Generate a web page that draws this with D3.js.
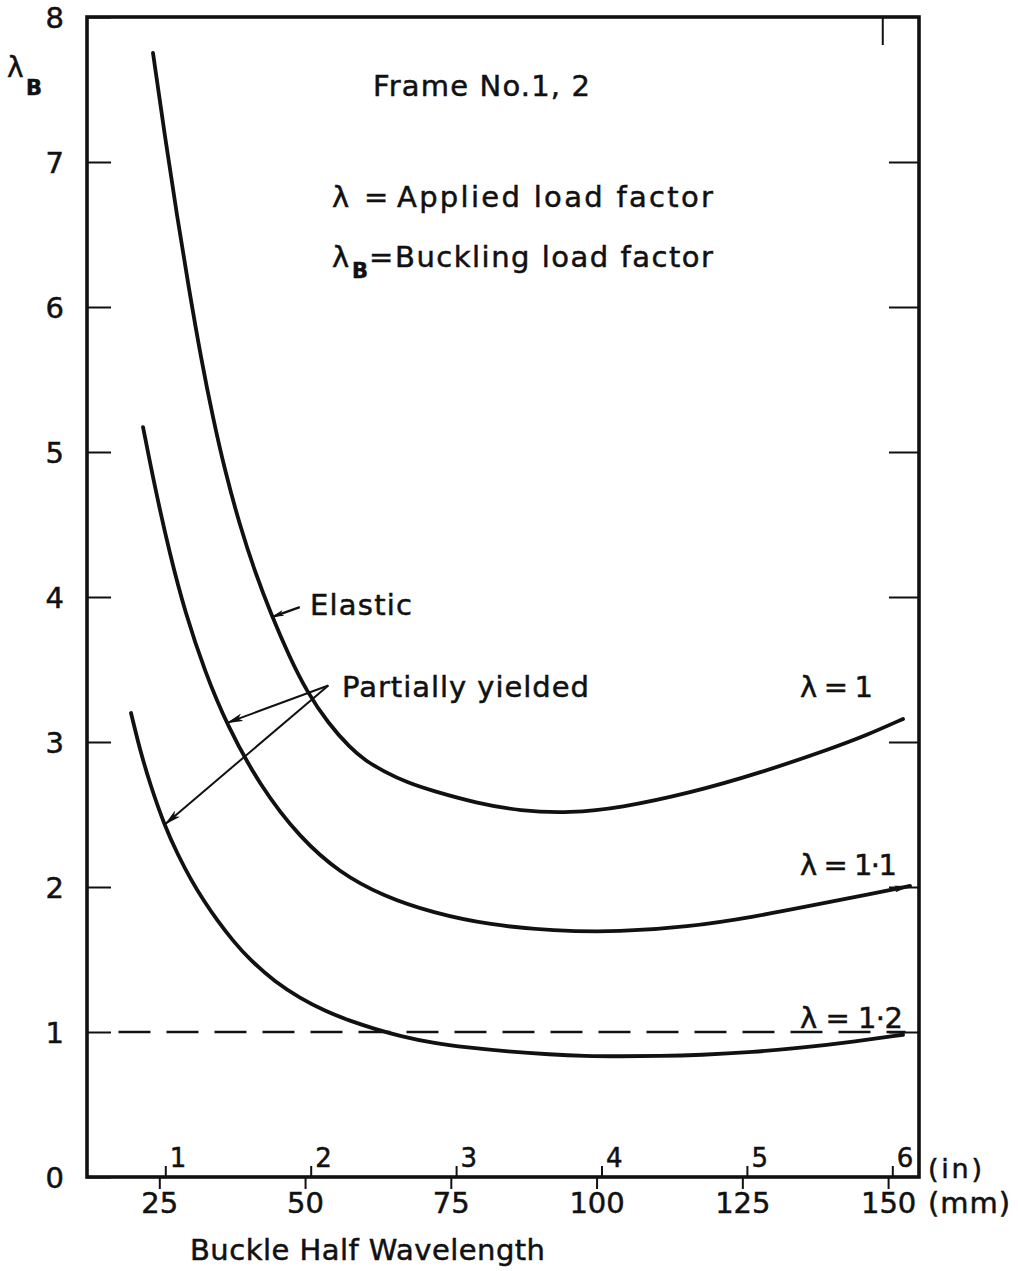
<!DOCTYPE html>
<html><head><meta charset="utf-8">
<script src="https://cdn.jsdelivr.net/npm/d3@7"></script>
<style>
body{margin:0;background:#fff}
svg{display:block}
text{font-family:"DejaVu Sans",sans-serif;fill:#111;stroke:#111;stroke-width:0.5}
</style>
</head><body>
<svg id="c" width="1018" height="1271"></svg>
<script>
// ---- data ----
const yTicks = [0,1,2,3,4,5,6,7,8];
const mmTicks = [25,50,75,100,125,150];
const inchTicks = [1,2,3,4,5,6];
const topTickMm = [149];

// [buckle half wavelength (mm), lambda_B]
const lambda1 = [[23.92,7.752],[25.98,7.172],[28.04,6.628],[30.09,6.124],[32.15,5.648],[34.21,5.234],[36.27,4.869],[38.84,4.490],[41.42,4.172],[44.16,3.883],[47.25,3.593],[50.33,3.345],[53.94,3.131],[57.71,2.959],[60.45,2.869],[63.37,2.800],[67.66,2.717],[71.94,2.662],[79.32,2.579],[86.87,2.524],[95.44,2.510],[104.02,2.545],[116.02,2.648],[128.03,2.786],[140.55,2.959],[146.38,3.048],[152.56,3.159]];
const lambda11 = [[22.21,5.172],[24.26,4.752],[26.84,4.290],[29.41,3.897],[32.84,3.483],[36.61,3.117],[42.27,2.697],[49.13,2.338],[55.99,2.097],[63.37,1.938],[71.94,1.821],[81.72,1.738],[92.53,1.697],[104.02,1.690],[115.51,1.724],[126.83,1.793],[138.32,1.883],[146.90,1.952],[153.76,2.007]];
const lambda12 = [[20.15,3.200],[21.69,2.945],[23.41,2.710],[25.98,2.414],[28.21,2.221],[30.44,2.048],[32.67,1.903],[34.90,1.772],[37.64,1.628],[40.56,1.497],[44.85,1.345],[49.13,1.234],[53.42,1.145],[57.71,1.076],[62.00,1.021],[66.28,0.972],[71.94,0.924],[77.78,0.893],[84.81,0.865],[92.01,0.845],[98.01,0.834],[104.02,0.832],[110.88,0.834],[117.74,0.841],[126.83,0.861],[135.40,0.892],[143.98,0.933],[152.56,0.981]];
const refLine = {value:1, from:18, to:153};

// annotation arrows: [from, to] in (mm, lambda_B)
const elasticArrow = [[49.1,3.93],[44.2,3.86]];
const yieldArrows = [[[54.0,3.39],[36.5,3.13]], [[54.0,3.39],[25.9,2.43]]];

// ---- layout ----
const L=87, R=919, T=17, B=1177;
const svg = d3.select("#c");
const x = d3.scaleLinear().domain([12.6,155.3]).range([L,R]);
const xIn = d3.scaleLinear().domain([0.4615,6.1836]).range([L,R]);
const y = d3.scaleLinear().domain([0,8]).range([B,T]);

const defs = svg.append("defs");
function marker(id,len,wid){
  defs.append("marker").attr("id",id).attr("markerUnits","userSpaceOnUse")
    .attr("markerWidth",len).attr("markerHeight",wid)
    .attr("refX",len).attr("refY",wid/2).attr("orient","auto")
    .append("path").attr("d",`M0,0L${len},${wid/2}L0,${wid}L${len*0.25},${wid/2}Z`).attr("fill","#111");
}
marker("ahBig",17,8);
marker("ahSmall",13,6);
marker("ahEnd",16,7);

// axes
function styleAxis(g,size){
  g.select(".domain").remove();
  g.selectAll("line").attr("stroke","#111").attr("stroke-width",2);
  g.selectAll("text").attr("font-size",size).attr("font-family","DejaVu Sans").attr("fill","#111");
  g.attr("font-size",null).attr("font-family",null);
}
const gl = svg.append("g").attr("transform",`translate(${L},0)`)
  .call(d3.axisLeft(y).tickValues(yTicks).tickSizeInner(-24).tickSizeOuter(0).tickPadding(23).tickFormat(d3.format("d")));
styleAxis(gl,29);
gl.selectAll("text").attr("dy","0.36em");

const gr = svg.append("g").attr("transform",`translate(${R},0)`)
  .call(d3.axisRight(y).tickValues(yTicks.slice(1,-1)).tickSizeInner(-30).tickSizeOuter(0).tickFormat(""));
styleAxis(gr,10);

const gb = svg.append("g").attr("transform",`translate(0,${B})`)
  .call(d3.axisBottom(x).tickValues(mmTicks).tickSizeInner(12).tickSizeOuter(0).tickPadding(4).tickFormat(d3.format("d")));
styleAxis(gb,29);
gb.selectAll("text").attr("dy",null).attr("y",36);

const gi = svg.append("g").attr("transform",`translate(0,${B})`)
  .call(d3.axisTop(xIn).tickValues(inchTicks).tickSizeInner(11).tickSizeOuter(0).tickFormat(d3.format("d")));
styleAxis(gi,26);
gi.selectAll("text").attr("x",4).attr("y",-10).attr("dy",null).attr("text-anchor","start");

const gt = svg.append("g").attr("transform",`translate(0,${T})`)
  .call(d3.axisBottom(x).tickValues(topTickMm).tickSizeInner(28).tickSizeOuter(0).tickFormat(""));
styleAxis(gt,10);

// frame
svg.append("rect").attr("x",L).attr("y",T).attr("width",R-L).attr("height",B-T)
  .attr("fill","none").attr("stroke","#111").attr("stroke-width",3.6);

// reference dashed line
svg.append("line").attr("x1",x(refLine.from)).attr("x2",x(refLine.to))
  .attr("y1",y(refLine.value)).attr("y2",y(refLine.value))
  .attr("stroke","#111").attr("stroke-width",2.3).attr("stroke-dasharray","32,16");

// curves
const line = d3.line().x(d=>x(d[0])).y(d=>y(d[1])).curve(d3.curveBasis);
svg.append("path").attr("d",line(lambda1)).attr("fill","none").attr("stroke","#111").attr("stroke-width",3.8).attr("stroke-linecap","round");
svg.append("path").attr("d",line(lambda11)).attr("fill","none").attr("stroke","#111").attr("stroke-width",3.8).attr("stroke-linecap","round").attr("marker-end","url(#ahEnd)");
svg.append("path").attr("d",line(lambda12)).attr("fill","none").attr("stroke","#111").attr("stroke-width",3.8).attr("stroke-linecap","round");

// annotation arrows
function arrow(a,m,w){
  svg.append("line").attr("x1",x(a[0][0])).attr("y1",y(a[0][1])).attr("x2",x(a[1][0])).attr("y2",y(a[1][1]))
    .attr("stroke","#111").attr("stroke-width",w).attr("marker-end",`url(#${m})`);
}
arrow(elasticArrow,"ahSmall",2.4);
yieldArrows.forEach(a=>arrow(a,"ahBig",2));

// texts
function txt(s,xx,yy,size,len,extra){
  const t = svg.append("text").attr("x",xx).attr("y",yy).attr("font-size",size).text(s);
  if(len){t.attr("textLength",len).attr("lengthAdjust","spacing");}
  if(extra) extra(t);
  return t;
}
txt("Frame No.1, 2",373,96,29,217);
txt("λ",332,207,29);
txt("=",364,207,29);
txt("Applied load factor",397,207,29,316);
txt("λ",332,267,29);
txt("B",352,278,21,null,t=>t.attr("font-weight","bold"));
txt("=",369,267,29);
txt("Buckling load factor",395,267,29,318);

txt("λ",7,77,28);
txt("B",26,95,21,null,t=>t.attr("font-weight","bold"));

txt("Elastic",310,615,29,102);
txt("Partially yielded",342,697,29,247);
txt("λ = 1",800,697,29,73);
txt("λ = 1·1",800,875,29,97);
txt("λ = 1·2",800,1028,29,103);

txt("(in)",928,1178,27,54);
txt("(mm)",928,1213,29,82);
txt("Buckle Half Wavelength",190,1260,29,355);
</script>
</body></html>
